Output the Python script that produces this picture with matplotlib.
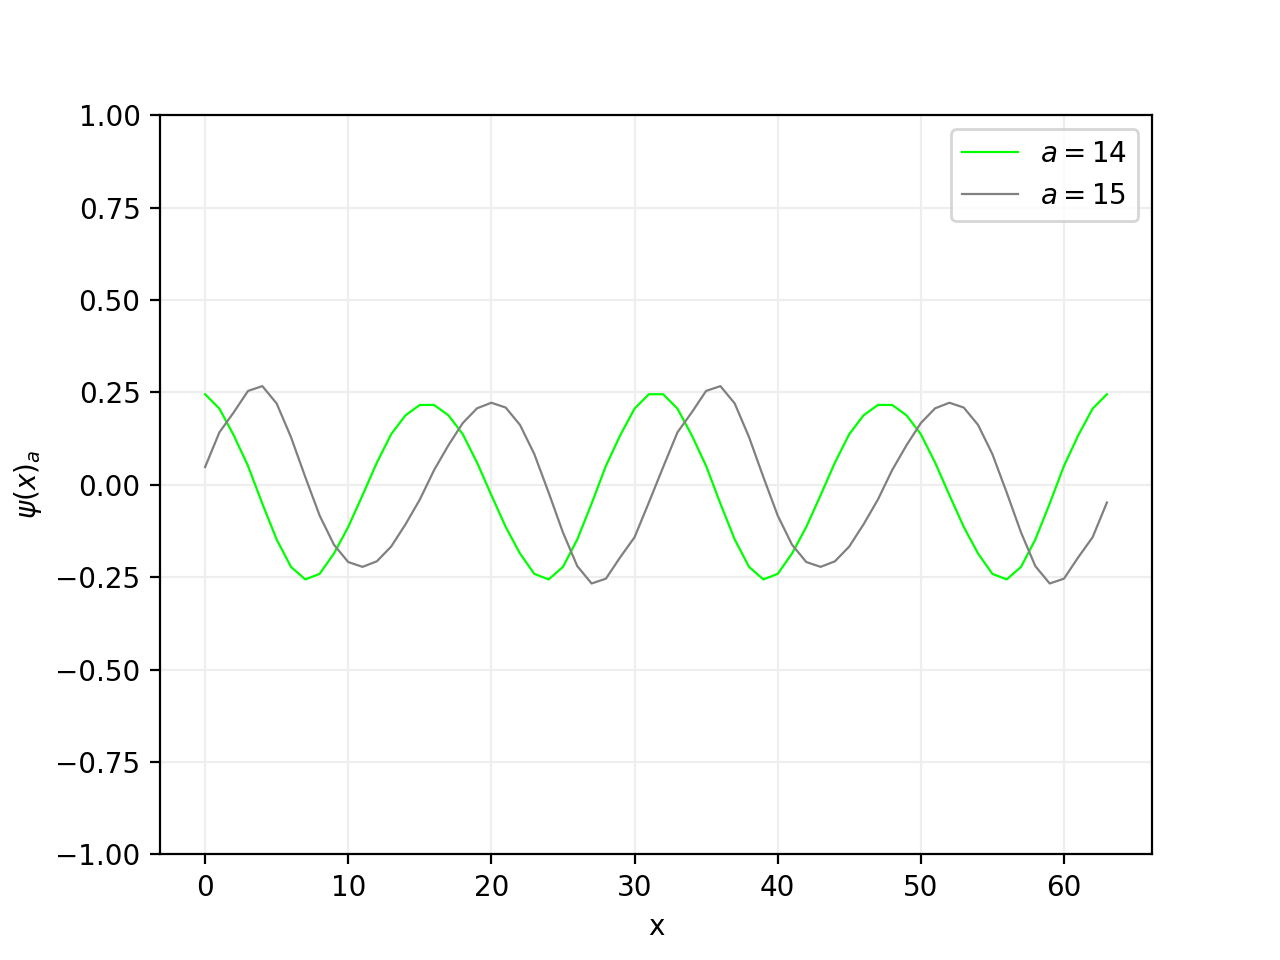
import matplotlib
matplotlib.use("Agg")
import matplotlib.pyplot as plt

x = list(range(64))

psi_14 = [0.245, 0.206, 0.134, 0.051, -0.051, -0.148, -0.222, -0.256,
          -0.241, -0.186, -0.114, -0.028, 0.060, 0.137, 0.188, 0.216,
          0.216, 0.188, 0.137, 0.060, -0.028, -0.114, -0.186, -0.241,
          -0.256, -0.222, -0.148, -0.051, 0.051, 0.134, 0.206, 0.245,
          0.245, 0.206, 0.134, 0.051, -0.051, -0.148, -0.222, -0.256,
          -0.241, -0.186, -0.114, -0.028, 0.060, 0.137, 0.188, 0.216,
          0.216, 0.188, 0.137, 0.060, -0.028, -0.114, -0.186, -0.241,
          -0.256, -0.222, -0.148, -0.051, 0.051, 0.134, 0.206, 0.245]

psi_15 = [0.048, 0.142, 0.196, 0.254, 0.267, 0.220, 0.129, 0.021,
          -0.083, -0.162, -0.209, -0.222, -0.207, -0.167, -0.107, -0.040,
          0.040, 0.107, 0.167, 0.207, 0.222, 0.209, 0.162, 0.083,
          -0.021, -0.129, -0.220, -0.267, -0.254, -0.196, -0.142, -0.048,
          0.048, 0.142, 0.196, 0.254, 0.267, 0.220, 0.129, 0.021,
          -0.083, -0.162, -0.209, -0.222, -0.207, -0.167, -0.107, -0.040,
          0.040, 0.107, 0.167, 0.207, 0.222, 0.209, 0.162, 0.083,
          -0.021, -0.129, -0.220, -0.267, -0.254, -0.196, -0.142, -0.048]

fig, ax = plt.subplots(figsize=(6.4, 4.8), dpi=200)
ax.plot(x, psi_14, color="lime", linewidth=0.8, label=r"$a = 14$")
ax.plot(x, psi_15, color="gray", linewidth=0.8, label=r"$a = 15$")
ax.set_ylim(-1, 1)
ax.grid(color="#eeeeee", linewidth=0.8)
ax.set_axisbelow(True)
ax.set_xlabel("x")
ax.set_ylabel(r"$\psi(x)_a$")
ax.legend(loc="upper right")
fig.savefig("out.png")
